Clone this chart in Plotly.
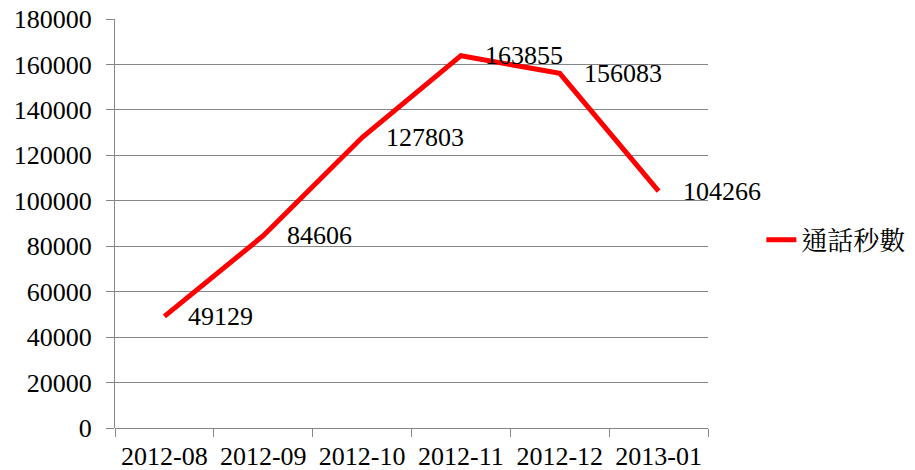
import plotly.graph_objects as go

categories = ["2012-08", "2012-09", "2012-10", "2012-11", "2012-12", "2013-01"]
values = [49129, 84606, 127803, 163855, 156083, 104266]
series_name = "通話秒數"
y_ticks = [0, 20000, 40000, 60000, 80000, 100000, 120000, 140000, 160000, 180000]

FONT = "Liberation Serif"
GRID = "#868686"
FS = 26

fig = go.Figure()
fig.add_trace(go.Scatter(
    x=categories, y=values, mode="lines", name=series_name,
    line=dict(color="#FF0000", width=5),
))

for c, v in zip(categories, values):
    fig.add_annotation(x=c, y=v, text=str(v), showarrow=False,
                       xanchor="left", yanchor="middle", xshift=22, yshift=0,
                       font=dict(family=FONT, size=FS, color="black"))

fig.update_layout(
    width=915, height=470,
    margin=dict(l=107, r=215, t=11, b=50),
    paper_bgcolor="white", plot_bgcolor="white",
    font=dict(family=FONT, size=FS, color="black"),
    showlegend=True,
    legend=dict(x=1.09, y=0.46, xanchor="left", yanchor="middle",
                font=dict(family="Noto Serif CJK TC", size=26, color="black"),
                bgcolor="rgba(0,0,0,0)"),
)
fig.update_xaxes(type="category", range=[-0.5, 5.5], tickson="boundaries",
                 ticks="outside", ticklen=8, automargin=False,
                 tickcolor=GRID, showgrid=False, showline=False, zeroline=False,
                 ticklabelstandoff=10,
                 tickfont=dict(family=FONT, size=FS))
fig.update_yaxes(range=[0, 180000], tickvals=y_ticks, tickformat="d",
                 ticks="outside", ticklen=8, automargin=False, ticklabeloverflow="allow",
                 tickcolor=GRID, showgrid=True, gridcolor=GRID, gridwidth=1,
                 showline=True, linecolor=GRID, linewidth=1,
                 zeroline=True, zerolinecolor=GRID, zerolinewidth=1,
                 ticklabelstandoff=9, tickfont=dict(family=FONT, size=FS))

fig.write_html("out.html")
